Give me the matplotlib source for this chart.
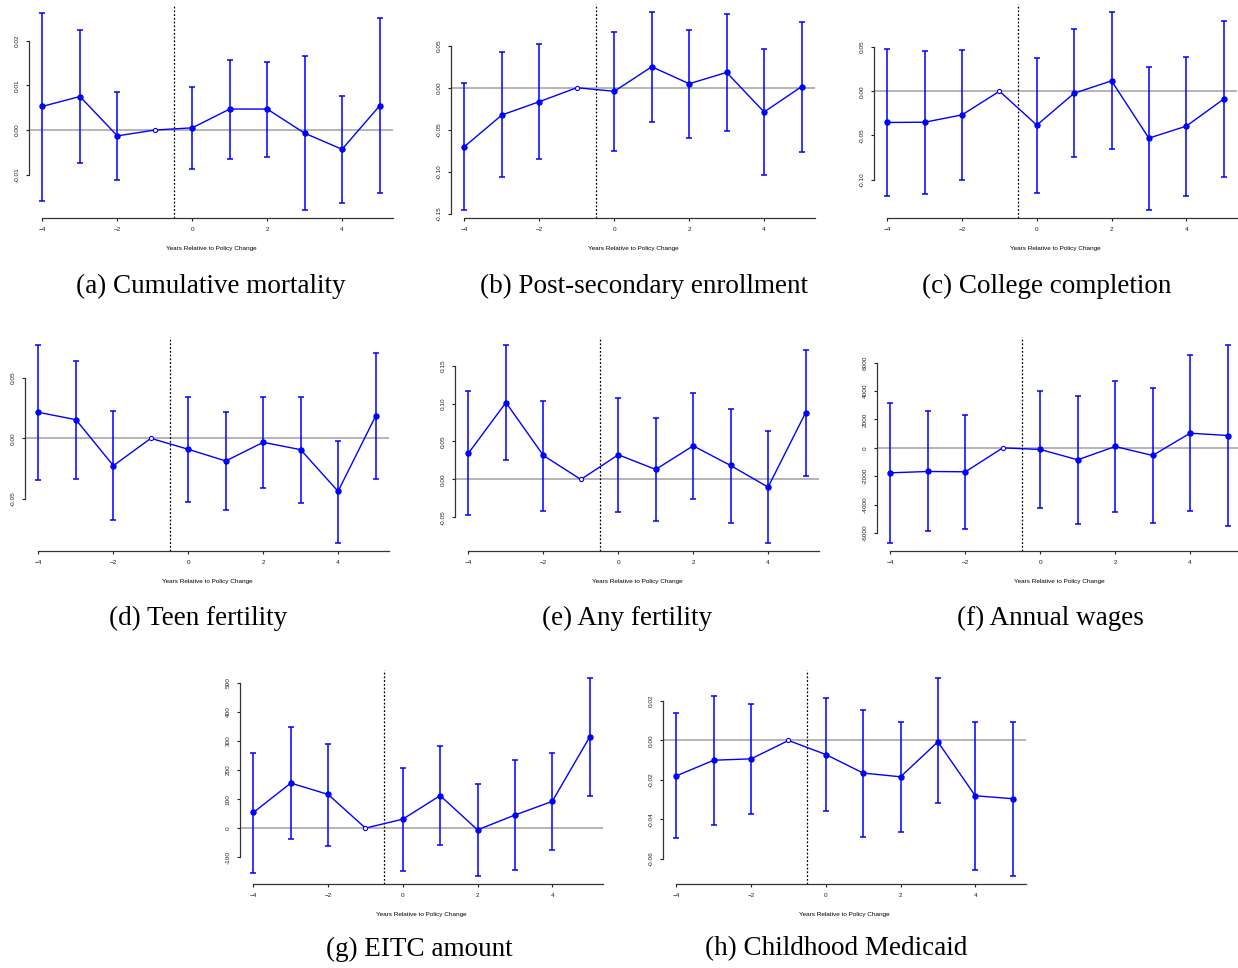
import numpy as np
import matplotlib
matplotlib.use("Agg")
import matplotlib.pyplot as plt

# event time
years = [-4, -3, -2, -1, 0, 1, 2, 3, 4, 5]

# (a) cumulative mortality
est_a = [0.0053, 0.0075, -0.0013, 0.0, 0.0005, 0.0047, 0.0047, -0.0007, -0.0043, 0.0054]
lo_a = [-0.0159, -0.0073, -0.0112, np.nan, -0.0088, -0.0064, -0.0061, -0.0179, -0.0163, -0.0141]
hi_a = [0.0262, 0.0224, 0.0086, np.nan, 0.0096, 0.0156, 0.0153, 0.0165, 0.0076, 0.0250]

# (b) post-secondary enrollment
est_b = [-0.070, -0.0324, -0.0166, 0.0, -0.0043, 0.0249, 0.0047, 0.0182, -0.0289, 0.0012]
lo_b = [-0.1455, -0.1059, -0.0846, np.nan, -0.0755, -0.0407, -0.0593, -0.0514, -0.1036, -0.0767]
hi_b = [0.0051, 0.0419, 0.0518, np.nan, 0.0660, 0.0901, 0.0692, 0.0877, 0.0462, 0.0787]

# (c) college completion
est_c = [-0.0353, -0.0350, -0.0267, 0.0, -0.0383, -0.0023, 0.0117, -0.0530, -0.0395, -0.0090]
lo_c = [-0.1188, -0.1158, -0.1008, np.nan, -0.1150, -0.0748, -0.0658, -0.1342, -0.1180, -0.0974]
hi_c = [0.0481, 0.0455, 0.0470, np.nan, 0.0380, 0.0703, 0.0895, 0.0274, 0.0387, 0.0797]

# (d) teen fertility
est_d = [0.0216, 0.0155, -0.0227, 0.0, -0.0091, -0.0188, -0.0033, -0.0094, -0.0440, 0.0183]
lo_d = [-0.0346, -0.0338, -0.0681, np.nan, -0.0529, -0.0598, -0.0413, -0.0537, -0.0870, -0.0338]
hi_d = [0.0776, 0.0645, 0.0227, np.nan, 0.0341, 0.0222, 0.0343, 0.0343, -0.0019, 0.0709]

# (e) any fertility
est_e = [0.0346, 0.1013, 0.0316, 0.0, 0.0325, 0.0132, 0.0443, 0.0184, -0.0101, 0.0877]
lo_e = [-0.0474, 0.0259, -0.0417, np.nan, -0.0430, -0.0553, -0.0259, -0.0575, -0.0838, 0.0048]
hi_e = [0.1167, 0.1772, 0.1039, np.nan, 0.1079, 0.0803, 0.1145, 0.0934, 0.0632, 0.1706]

# (f) annual wages
est_f = [-1761, -1667, -1690, 0, -117, -845, 94, -540, 1033, 869]
lo_f = [-6714, -5892, -5751, np.nan, -4272, -5352, -4507, -5329, -4484, -5516]
hi_f = [3192, 2606, 2347, np.nan, 4014, 3662, 4718, 4225, 6573, 7254]

# (g) EITC amount
est_g = [54, 155, 116, 0, 31, 112, -6, 45, 92, 313]
lo_g = [-154, -37, -61, np.nan, -146, -57, -165, -143, -75, 110]
hi_g = [259, 347, 289, np.nan, 208, 281, 153, 233, 258, 517]

# (h) childhood Medicaid
est_h = [-0.0179, -0.0100, -0.0093, 0.0, -0.0071, -0.0165, -0.0184, -0.0007, -0.0280, -0.0295]
lo_h = [-0.0496, -0.0427, -0.0371, np.nan, -0.0359, -0.0488, -0.0466, -0.0319, -0.0655, -0.0687]
hi_h = [0.0137, 0.0226, 0.0187, np.nan, 0.0216, 0.0155, 0.0096, 0.0317, 0.0096, 0.0093]

W, H = 1238, 968
BLUE = "#0000ff"

fig = plt.figure(figsize=(W / 100, H / 100), dpi=100)
plt.rcParams["font.family"] = ["Liberation Sans", "DejaVu Sans"]


def event_plot(box, est, lo, hi, yticks, fmt, caption, cap_xy):
    x0, top, x1, bottom = box
    ax = fig.add_axes([x0 / W, 1 - bottom / H, (x1 - x0) / W, (bottom - top) / H])
    x = np.array(years, dtype=float)
    est = np.array(est, dtype=float)
    lo = np.array(lo, dtype=float)
    hi = np.array(hi, dtype=float)
    has_ci = ~np.isnan(lo)

    ax.axhline(0, color="#a0a0a0", lw=1.1, zorder=1)
    ax.axvline(-0.5, color="black", lw=0.9, ls=(0, (1.5, 1.5)), zorder=1)
    ax.plot(x, est, color=BLUE, lw=1.0, zorder=3)
    ax.errorbar(x[has_ci], est[has_ci],
                yerr=[est[has_ci] - lo[has_ci], hi[has_ci] - est[has_ci]],
                fmt="none", ecolor=BLUE, elinewidth=1.1, capsize=2.2,
                capthick=1.1, zorder=2)
    ax.plot(x[has_ci], est[has_ci], "o", color=BLUE, ms=3.6, zorder=4)
    ax.plot(x[~has_ci], est[~has_ci], "o", mfc="white", mec=BLUE,
            mew=0.8, ms=3.0, zorder=4)

    ax.margins(x=0.04, y=0.04)
    ax.set_xticks([-4, -2, 0, 2, 4])
    ax.set_yticks(yticks)
    ax.set_yticklabels([fmt % v for v in yticks], rotation=90, va="center")
    ax.tick_params(labelsize=4.6, length=2.5, width=0.8, pad=4, colors="#222222")
    ax.set_xlabel("Years Relative to Policy Change", fontsize=4.6, labelpad=10)

    for s in ("top", "right"):
        ax.spines[s].set_visible(False)
    ax.spines["left"].set_bounds(yticks[0], yticks[-1])
    ax.spines["bottom"].set_bounds(-4, ax.get_xlim()[1])
    for s in ("left", "bottom"):
        ax.spines[s].set_linewidth(0.9)
        ax.spines[s].set_color("#333333")

    fig.text(cap_xy[0] / W, 1 - cap_xy[1] / H, caption, ha="center", va="center",
             fontsize=19.5, family=["Liberation Serif", "DejaVu Serif"])
    return ax


event_plot((29, 5, 393, 218), est_a, lo_a, hi_a, [-0.01, 0.0, 0.01, 0.02], "%.2f",
           "(a) Cumulative mortality", (211, 286))
event_plot((451, 4, 815, 218), est_b, lo_b, hi_b, [-0.15, -0.10, -0.05, 0.0, 0.05], "%.2f",
           "(b) Post-secondary enrollment", (644, 286))
event_plot((874, 4, 1237, 218), est_c, lo_c, hi_c, [-0.10, -0.05, 0.0, 0.05], "%.2f",
           "(c) College completion", (1047, 286))
event_plot((25, 337, 389, 551), est_d, lo_d, hi_d, [-0.05, 0.0, 0.05], "%.2f",
           "(d) Teen fertility", (198, 618))
event_plot((455, 337, 819, 551), est_e, lo_e, hi_e, [-0.05, 0.0, 0.05, 0.10, 0.15], "%.2f",
           "(e) Any fertility", (627, 618))
event_plot((877, 337, 1241, 551), est_f, lo_f, hi_f, [-6000, -4000, -2000, 0, 2000, 4000, 6000], "%d",
           "(f) Annual wages", (1050, 618))
event_plot((240, 670, 603, 884), est_g, lo_g, hi_g, [-100, 0, 100, 200, 300, 400, 500], "%d",
           "(g) EITC amount", (419, 949))
event_plot((663, 670, 1026, 884), est_h, lo_h, hi_h, [-0.06, -0.04, -0.02, 0.0, 0.02], "%.2f",
           "(h) Childhood Medicaid", (836, 949))

fig.savefig("out.png", dpi=100)
